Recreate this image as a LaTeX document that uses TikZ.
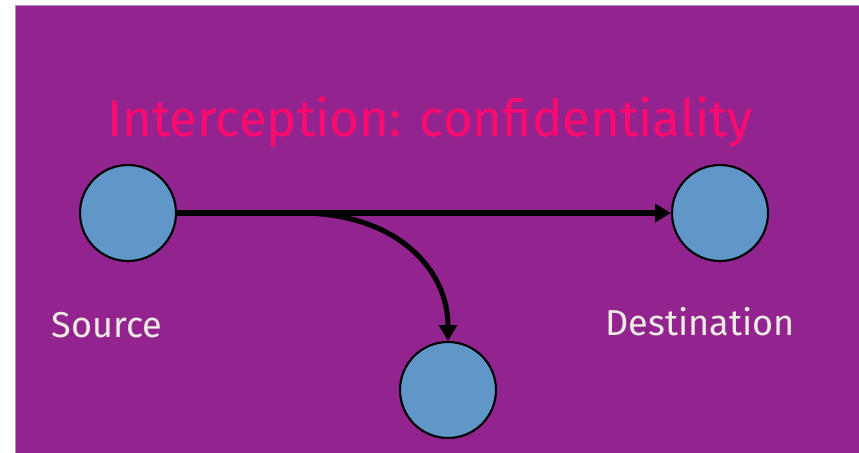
\documentclass[tikz,border=0pt]{standalone}
\usepackage{fontspec}
\setmainfont{Fira Sans}
\usepackage{tikz}
\usetikzlibrary{positioning,arrows.meta}
\definecolor{slidepurple}{HTML}{93238F}
\definecolor{slideedge}{HTML}{B58CC0}
\definecolor{titlepink}{HTML}{FF0A6E}
\definecolor{nodeblue}{HTML}{6096C8}
\definecolor{chalk}{HTML}{EEEBE2}

\begin{document}
\begin{tikzpicture}[
    x=0.02cm, y=-0.02cm,
    host/.style={circle, draw=black, line width=1.2pt, fill=nodeblue,
                 minimum size=96*0.02cm, inner sep=0pt},
    flow/.style={line width=2.9pt, -{Triangle[length=9pt, width=10pt]}},
    lbl/.style={text=chalk, font=\fontsize{20.5}{24}\selectfont, inner sep=0pt},
    hdr/.style={text=titlepink, font=\fontsize{29}{34}\selectfont, inner sep=0pt}
  ]

  % ---- page and background ------------------------------------------------
  \useasboundingbox (0,0) rectangle (859,453);
  \fill[white] (0,0) rectangle (859,453);
  \draw[fill=slidepurple, draw=slideedge, line width=0.5pt] (15.5,5.5) rectangle (859.5,454);

  % ---- title --------------------------------------------------------------
  \node[hdr] (title) at (430,122) {Interception: confidentiality};

  % ---- hosts --------------------------------------------------------------
  \node[host] (src) at (128,213) {};
  \node[host] (dst) at (720,213) {};
  \node[host] (eve) at (448,390) {};

  \node[lbl] (srclbl) at (107,325) {Source};
  \node[lbl] (dstlbl) at (700,322) {Destination};

  % ---- traffic and the tap on it -----------------------------------------
  \coordinate (tap) at (300,213);
  \draw[flow] (src.east) -- (dst.west);
  \draw[flow] (tap) .. controls (395,213) and (448,268) .. (eve.north);

\end{tikzpicture}
\end{document}
